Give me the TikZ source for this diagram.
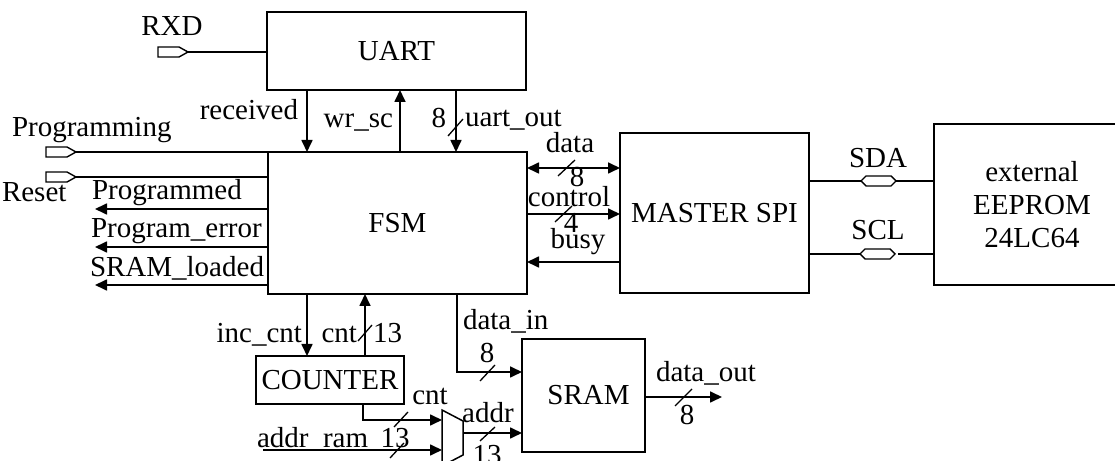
\documentclass[tikz,border=0pt]{standalone}
\usepackage{fontspec}
\setmainfont{Liberation Serif}
\usetikzlibrary{arrows.meta,calc}
\begin{document}
\begin{tikzpicture}[x=1bp,y=-1bp,
  every node/.style={inner sep=0pt,outer sep=0pt,font=\fontsize{29bp}{33bp}\selectfont},
  blk/.style={draw,line width=1.7bp,align=center},
  wire/.style={line width=1.7bp},
  arr/.style={wire,-{Triangle[length=12bp,width=11bp]}},
  darr/.style={wire,{Triangle[length=12bp,width=11bp]}-{Triangle[length=12bp,width=11bp]}},
  port/.style={line width=1.4bp},
  slash/.style={line width=1.3bp}]
\useasboundingbox (0,0) rectangle (1115,461);
\clip (0,0) rectangle (1115,461);

% blocks
\node[blk,minimum width=259bp,minimum height=78bp] (uart) at (396.5,51) {UART};
\node[blk,minimum width=259bp,minimum height=142bp] (fsm) at (397.5,223) {FSM};
\node[blk,minimum width=189bp,minimum height=160bp] (spi) at (714.5,213) {MASTER SPI};
\node[blk,minimum width=196bp,minimum height=161bp] (eep) at (1032,204.5) {external\\EEPROM\\24LC64};
\node[blk,minimum width=148bp,minimum height=48bp] (cnt) at (330,380) {COUNTER};
\node[blk,minimum width=123bp,minimum height=113bp,text width=123bp] (sram) at (583.5,395.5) {\hspace*{10bp}SRAM};

% mux
\draw[line width=1.5bp] (442,410) -- (463,421) -- (463,455) -- (442,466) -- cycle;
\coordinate (muxa) at (442,420);
\coordinate (muxb) at (442,450);
\coordinate (muxo) at (463,433);

% input ports
\coordinate (rxd) at (188,52);
\coordinate (prg) at (76,152);
\coordinate (rst) at (76,177);
\foreach \p in {rxd,prg,rst}{
  \draw[port,fill=white] ($(\p)+(-30,-5)$) -- ($(\p)+(-9,-5)$) -- (\p) -- ($(\p)+(-9,5)$) -- ($(\p)+(-30,5)$) -- cycle;
}
\draw[wire] (rxd) -- (uart.west |- rxd);
\draw[wire] (prg) -- (fsm.west |- prg);
\draw[wire] (rst) -- (fsm.west |- rst);
\node[anchor=base] (lrxd) at (172,36) {RXD};
\node[anchor=base west] (lprg) at (12,137) {Programming};
\node[anchor=base west] (lrst) at (2,202) {Reset};

% outputs on the left
\coordinate (o1) at (95,209);
\coordinate (o2) at (95,247);
\coordinate (o3) at (95,285);
\draw[arr] (fsm.west |- o1) -- (o1);
\draw[arr] (fsm.west |- o2) -- (o2);
\draw[arr] (fsm.west |- o3) -- (o3);
\node[anchor=base west] (lo1) at (92,200) {Programmed};
\node[anchor=base west] (lo2) at (91,238) {Program\_error};
\node[anchor=base west] (lo3) at (90,277) {SRAM\_loaded};

% UART <-> FSM
\coordinate (xrec) at (307,0);
\coordinate (xwr) at (400,0);
\coordinate (xuo) at (456,0);
\draw[arr] (uart.south -| xrec) -- (fsm.north -| xrec);
\draw[arr] (fsm.north -| xwr) -- (uart.south -| xwr);
\draw[arr] (uart.south -| xuo) -- (fsm.north -| xuo);
\draw[slash] (448,136) -- (463,119);
\node[anchor=base east] (lrec) at (298,120) {received};
\node[anchor=base east] (lwr) at (393,128) {wr\_sc};
\node[anchor=base east] (luo8) at (446,128) {8};
\node[anchor=base west] (luo) at (465,127) {uart\_out};

% FSM <-> SPI
\coordinate (yd) at (0,168);
\coordinate (yc) at (0,214);
\coordinate (yb) at (0,262);
\draw[darr] (fsm.east |- yd) -- (spi.west |- yd);
\draw[arr] (fsm.east |- yc) -- (spi.west |- yc);
\draw[arr] (spi.west |- yb) -- (fsm.east |- yb);
\draw[slash] (558,176) -- (575,160);
\draw[slash] (555,222) -- (572,206);
\node[anchor=base] (ld) at (570,153) {data};
\node[anchor=base] (ld8) at (577,187) {8};
\node[anchor=base] (lc) at (569,207) {control};
\node[anchor=base] (lc4) at (571,233) {4};
\node[anchor=base] (lb) at (578,249) {busy};

% SPI <-> EEPROM
\coordinate (ysda) at (0,181);
\coordinate (yscl) at (0,254);
\coordinate (hsda) at (861,181);
\coordinate (hscl) at (860,254);
\foreach \h in {hsda,hscl}{
  \draw[port] (\h) -- ($(\h)+(5,-5)$) -- ($(\h)+(30,-5)$) -- ($(\h)+(35,0)$) -- ($(\h)+(30,5)$) -- ($(\h)+(5,5)$) -- cycle;
}
\draw[wire] (spi.east |- ysda) -- (hsda);
\draw[wire] ($(hsda)+(35,0)$) -- (eep.west |- ysda);
\draw[wire] (spi.east |- yscl) -- (hscl);
\draw[wire] ($(hscl)+(38,0)$) -- (eep.west |- yscl);
\node[anchor=base] (lsda) at (878,168) {SDA};
\node[anchor=base] (lscl) at (878,240) {SCL};

% FSM <-> COUNTER
\coordinate (xinc) at (307,0);
\coordinate (xcnt) at (365,0);
\draw[arr] (fsm.south -| xinc) -- (cnt.north -| xinc);
\draw[arr] (cnt.north -| xcnt) -- (fsm.south -| xcnt);
\draw[slash] (358,341) -- (372,325);
\node[anchor=base east] (linc) at (302,343) {inc\_cnt};
\node[anchor=base east] (lcnt) at (357,343) {cnt};
\node[anchor=base west] (lc13) at (373,343) {13};

% COUNTER -> mux, addr_ram -> mux
\coordinate (xco) at (363,0);
\draw[arr] (cnt.south -| xco) |- (muxa);
\coordinate (ar) at (263,450);
\draw[arr] (ar) -- (muxb);
\draw[slash] (394,427) -- (408,412);
\draw[slash] (390,458) -- (404,443);
\node[anchor=base] (lcnt2) at (430,405) {cnt};
\node[anchor=base] (lm13) at (395,447) {13};
\node[anchor=base west] (lar) at (257,447) {addr\_ram};

% mux -> SRAM
\draw[arr] (muxo) -- (sram.west |- muxo);
\draw[slash] (480,441) -- (495,427);
\node[anchor=base] (laddr) at (488,423) {addr};
\node[anchor=base] (la13) at (487,464) {13};

% FSM -> SRAM data_in
\coordinate (xdi) at (457,0);
\coordinate (ydi) at (0,372);
\draw[arr] (fsm.south -| xdi) |- (sram.west |- ydi);
\draw[slash] (480,381) -- (495,365);
\node[anchor=base west] (ldi) at (463,330) {data\_in};
\node[anchor=base] (ldi8) at (487,363) {8};

% SRAM -> data_out
\coordinate (ydo) at (0,397);
\coordinate (doe) at (722,397);
\draw[arr] (sram.east |- ydo) -- (doe);
\draw[slash] (675,406) -- (692,389);
\node[anchor=base west] (ldo) at (656,382) {data\_out};
\node[anchor=base] (ldo8) at (687,425) {8};
\end{tikzpicture}
\end{document}
